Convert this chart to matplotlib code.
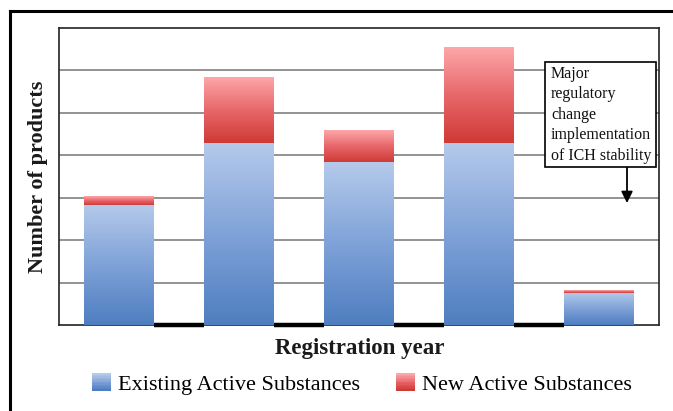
import numpy as np
import matplotlib
matplotlib.use("Agg")
import matplotlib.pyplot as plt
from matplotlib.patches import Rectangle
from matplotlib.lines import Line2D
from matplotlib.colors import LinearSegmentedColormap
from matplotlib.legend_handler import HandlerBase

# ---- data ----
categories = ["1", "2", "3", "4", "5"]
existing = [2.83, 4.28, 3.83, 4.28, 0.76]
new = [0.20, 1.55, 0.75, 2.25, 0.07]
series_names = ["Existing Active Substances", "New Active Substances"]
ylabel = "Number of products"
xlabel = "Registration year"
note = "Major\nregulatory\nchange\nimplementation\nof ICH stability"

W, H = 673, 411
fig = plt.figure(figsize=(W / 100, H / 100), dpi=100)
fx = lambda px: px / W
fy = lambda py: 1 - py / H

ax = fig.add_axes([fx(59), fy(325), fx(659) - fx(59), fy(28) - fy(325)])

blue_cmap = LinearSegmentedColormap.from_list("b", ["#4e7ec0", "#7fa2d8", "#b5caeb"])
red_cmap = LinearSegmentedColormap.from_list("r", ["#cf3a35", "#e8676a", "#fda7a9"])

x = np.arange(len(categories))
width = 0.58
b1 = ax.bar(x, existing, width, color="none", zorder=3)
b2 = ax.bar(x, new, width, bottom=existing, color="none", zorder=3)

grad = np.linspace(0, 1, 256).reshape(-1, 1)
for bars, cmap in ((b1, blue_cmap), (b2, red_cmap)):
    for r in bars:
        x0, y0 = r.get_x(), r.get_y()
        ax.imshow(grad, extent=[x0, x0 + r.get_width(), y0, y0 + r.get_height()],
                  origin="lower", cmap=cmap, aspect="auto", zorder=3,
                  interpolation="bilinear")

ax.set_xlim(-0.5, len(categories) - 0.5)
ax.set_ylim(0, 7)
ax.set_yticks(np.arange(1, 7))
ax.set_xticks([])
ax.tick_params(left=False, labelleft=False)
ax.yaxis.grid(True, color="#8a8a8a", lw=1.3)
ax.set_axisbelow(True)
for s in ("left", "top", "right", "bottom"):
    ax.spines[s].set_color("#222222")
    ax.spines[s].set_linewidth(1.2)

lefts = np.array([r.get_x() for r in b1])
rights = lefts + width
ax.hlines(np.zeros(len(lefts) - 1), rights[:-1], lefts[1:], color="black", lw=3.2,
          zorder=4, clip_on=False)

serif = ["Liberation Serif", "DejaVu Serif"]
fig.text(fx(38), fy(177), ylabel, rotation=90, ha="center", va="center",
         fontsize=16, fontweight="bold", family=serif, color="#1a1a1a")
fig.text(fx(360), fy(348), xlabel, ha="center", va="center",
         fontsize=16.5, fontweight="bold", family=serif, color="#1a1a1a")

# annotation box
fig.add_artist(Rectangle((fx(545), fy(167)), fx(656) - fx(545), fy(62) - fy(167),
                         transform=fig.transFigure, fc="white", ec="black", lw=1.2, zorder=5))
fig.text(fx(551), fy(66), note, ha="left", va="top", fontsize=11.5, family=serif,
         linespacing=1.37, zorder=6, color="#111111")
ax.annotate("", xy=(fx(627), fy(203)), xytext=(fx(627), fy(167)),
            xycoords="figure fraction", textcoords="figure fraction",
            arrowprops=dict(arrowstyle="-|>", color="black", lw=1.3,
                            mutation_scale=17, shrinkA=0, shrinkB=0), zorder=6)

# outer frame
fig.add_artist(Line2D([fx(10), 1.0], [fy(11), fy(11)], transform=fig.transFigure, color="black", lw=2.2))
fig.add_artist(Line2D([fx(10), fx(10)], [fy(11), 0.0], transform=fig.transFigure, color="black", lw=2.2))


class GradHandler(HandlerBase):
    def __init__(self, cmap):
        super().__init__()
        self.cmap = cmap

    def create_artists(self, legend, orig_handle, xdescent, ydescent, width, height, fontsize, trans):
        n = 12
        arts = []
        for i in range(n):
            c = self.cmap(i / (n - 1))
            arts.append(Rectangle((-xdescent, -ydescent + height * i / n), width, height / n + 0.3,
                                  fc=c, ec="none", transform=trans))
        return arts


h1 = Rectangle((0, 0), 1, 1)
h2 = Rectangle((0, 0), 1, 1)
fig.legend([h1, h2], series_names, loc="center", bbox_to_anchor=(fx(362), fy(384)),
           ncol=2, frameon=False, prop=dict(family=serif, size=16),
           handler_map={h1: GradHandler(blue_cmap), h2: GradHandler(red_cmap)},
           handlelength=0.85, handleheight=0.82, handletextpad=0.32, columnspacing=1.6)

fig.savefig("out.png", dpi=100)
